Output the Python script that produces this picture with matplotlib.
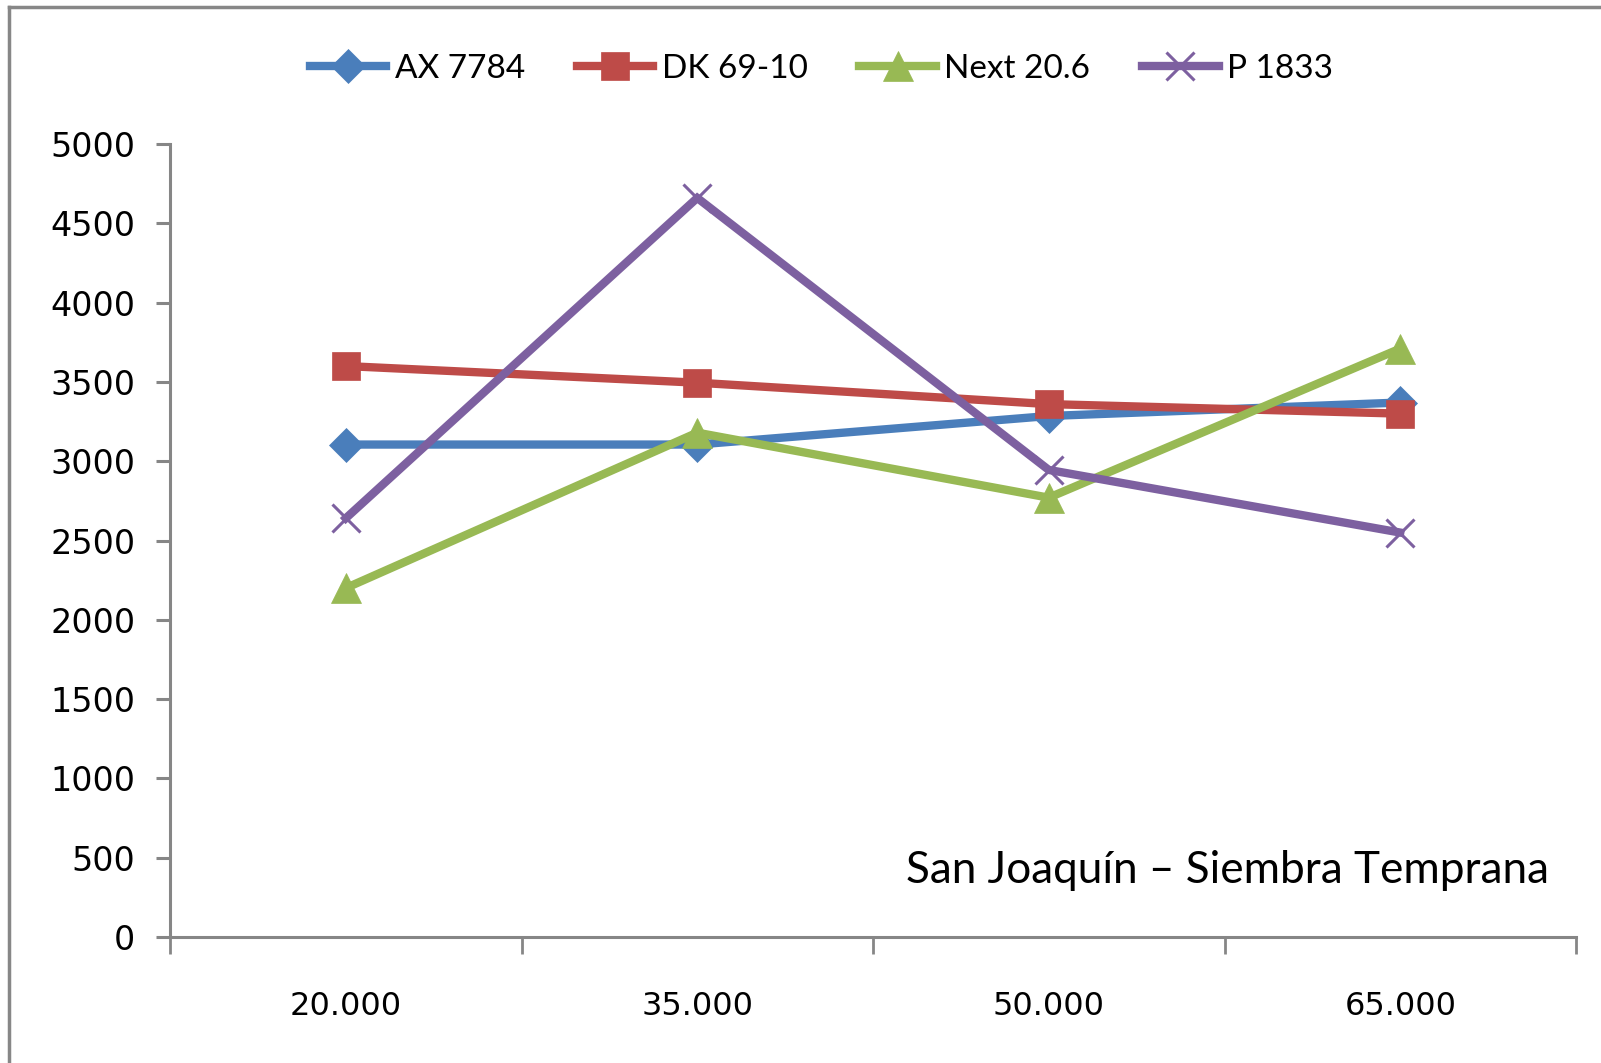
import matplotlib
matplotlib.use("Agg")
import matplotlib.pyplot as plt
from matplotlib.lines import Line2D

categories = ["20.000", "35.000", "50.000", "65.000"]
series_names = ["AX 7784", "DK 69-10", "Next 20.6", "P 1833"]
ax7784 = [3105, 3105, 3285, 3370]
dk6910 = [3600, 3495, 3360, 3300]
next206 = [2200, 3180, 2770, 3710]
p1833 = [2640, 4660, 2945, 2550]
yticks = [0, 500, 1000, 1500, 2000, 2500, 3000, 3500, 4000, 4500, 5000]
annotation = "San Joaquín – Siembra Temprana"

colors = ["#4A7EBB", "#BE4B48", "#98B954", "#7D60A0"]
markers = ["D", "s", "^", "x"]
msizes = [17, 20, 22, 20]

fig = plt.figure(figsize=(16.01, 10.63), dpi=100)
ax = fig.add_axes([170/1601, 1-937/1063, (1576-170)/1601, (937-144)/1063])

xs = list(range(len(categories)))
data = [ax7784, dk6910, next206, p1833]
handles = []
for vals, name, c, m, ms in zip(data, series_names, colors, markers, msizes):
    kw = dict(color=c, lw=6.0, marker=m, markersize=ms, markerfacecolor=c,
              markeredgecolor=c, label=name, solid_joinstyle="miter")
    if m == "x":
        kw["markeredgewidth"] = 2.2
    else:
        kw["markeredgewidth"] = 0.5
    ln, = ax.plot(xs, vals, **kw)
    handles.append(ln)

ax.set_xlim(-0.5, 3.5)
ax.set_ylim(0, 5000)
ax.set_yticks(yticks)
ax.set_yticklabels([str(v) for v in yticks], fontsize=24, family="DejaVu Sans")
ax.set_xticks([-0.5, 0.5, 1.5, 2.5, 3.5])
ax.set_xticklabels([])
ax.set_xticks(xs, minor=True)
ax.set_xticklabels(categories, minor=True, fontsize=23, family="DejaVu Sans")
ax.tick_params(axis="x", which="minor", length=0, pad=39)
ax.tick_params(axis="x", which="major", length=12, width=2, color="#868686", direction="out")
ax.tick_params(axis="y", length=10, width=2.2, color="#868686", pad=15)
for s in ["top", "right"]:
    ax.spines[s].set_visible(False)
for s in ["left", "bottom"]:
    ax.spines[s].set_color("#868686")
    ax.spines[s].set_linewidth(2.2)

ax.text(0.981, 0.068, annotation, transform=ax.transAxes, ha="right", va="baseline",
        fontsize=31.8, family="Lato")

fig.legend(handles=handles, loc="center", bbox_to_anchor=(0.513, 0.935), ncol=4,
           frameon=False, prop={"family": "Lato", "size": 24},
           handlelength=2.3, handletextpad=0.25, columnspacing=1.55, markerscale=1.0)

# outer chart border (left and top visible)
fig.add_artist(Line2D([9/1601, 9/1601], [0, 1-7/1063], transform=fig.transFigure,
                      color="#878787", lw=2.5))
fig.add_artist(Line2D([9/1601, 1], [1-7/1063, 1-7/1063], transform=fig.transFigure,
                      color="#878787", lw=2.5))

fig.savefig("out.png", dpi=100)
